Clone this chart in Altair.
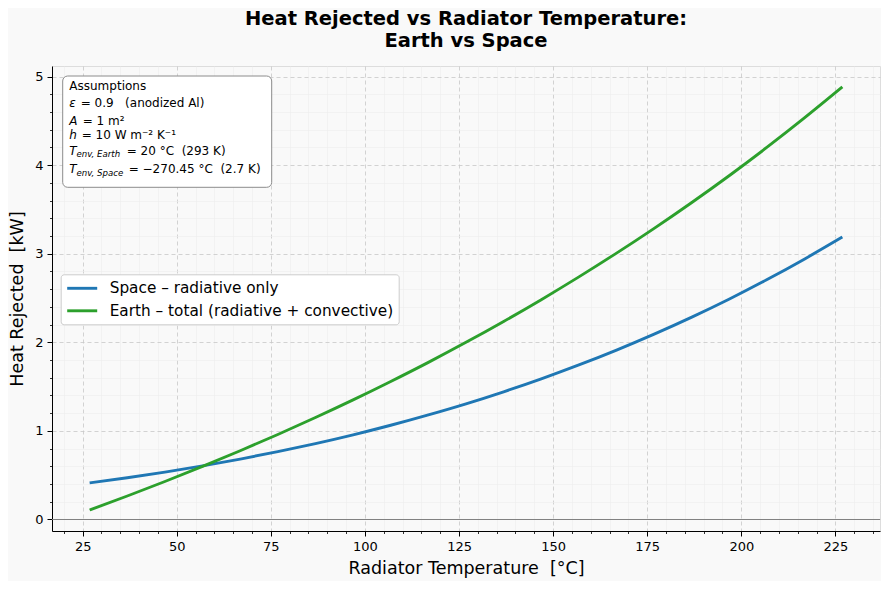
import altair as alt
import pandas as pd

# ---------------- data ----------------
temps_c = [26.85, 36.85, 46.85, 56.85, 66.85, 76.85, 86.85, 96.85, 106.85, 116.85,
           126.85, 136.85, 146.85, 156.85, 166.85, 176.85, 186.85, 196.85, 206.85,
           216.85, 226.85]
space_kw = [0.413, 0.471, 0.535, 0.605, 0.682, 0.766, 0.857, 0.956, 1.064, 1.181,
            1.306, 1.442, 1.588, 1.745, 1.913, 2.093, 2.285, 2.490, 2.709, 2.942, 3.189]
earth_kw = [0.107, 0.265, 0.429, 0.599, 0.776, 0.960, 1.151, 1.350, 1.558, 1.774,
            2.000, 2.236, 2.482, 2.739, 3.007, 3.287, 3.579, 3.884, 4.203, 4.536, 4.883]
series_names = ["Space \u2013 radiative only", "Earth \u2013 total (radiative + convective)"]
series_colors = ["#1f77b4", "#2ca02c"]

x_ticks = [20, 25, 30, 35, 40, 45, 50, 55, 60, 65, 70, 75, 80, 85, 90, 95, 100, 105,
           110, 115, 120, 125, 130, 135, 140, 145, 150, 155, 160, 165, 170, 175, 180,
           185, 190, 195, 200, 205, 210, 215, 220, 225, 230, 235]
x_major_ticks = [25, 50, 75, 100, 125, 150, 175, 200, 225]
y_ticks = [0, 0.2, 0.4, 0.6, 0.8, 1, 1.2, 1.4, 1.6, 1.8, 2, 2.2, 2.4, 2.6, 2.8,
           3, 3.2, 3.4, 3.6, 3.8, 4, 4.2, 4.4, 4.6, 4.8, 5]
y_major_ticks = [0, 1, 2, 3, 4, 5]

title_lines = ["Heat Rejected vs Radiator Temperature:", "Earth vs Space"]
x_title = "Radiator Temperature\u00a0\u00a0[\u00b0C]"
y_title = "Heat Rejected\u00a0\u00a0[kW]"

# ---------------- frames ----------------
rows = []
for t, s in zip(temps_c, space_kw):
    rows.append({"T": t, "Q": s, "series": series_names[0]})
for t, e in zip(temps_c, earth_kw):
    rows.append({"T": t, "Q": e, "series": series_names[1]})
df = pd.DataFrame(rows)

W, H = 828, 465
FONT = "DejaVu Sans"
LW = 2.9

def major_test(vals):
    return "indexof([" + ",".join(str(v) for v in vals) + "], datum.value) >= 0"

x_major = major_test(x_major_ticks)
y_major = major_test(y_major_ticks)

def make_axis(vals, test, title, title_pad):
    return alt.Axis(
        values=vals,
        tickCount=500,
        labelExpr=f"({test}) ? format(datum.value, 'd') : ''",
        title=title,
        titleFontSize=17.5, titleFontWeight="normal", titleColor="black",
        titlePadding=title_pad,
        labelFontSize=13, labelColor="black", labelPadding=4, labelFlush=False,
        labelOverlap=False,
        tickColor="black",
        tickSize={"condition": {"test": test, "value": 5}, "value": 2.5},
        tickWidth={"condition": {"test": test, "value": 1}, "value": 0.8},
        domainColor="black", domainWidth=1,
        grid=True,
        gridColor={"condition": {"test": test, "value": "#c8c8c8"}, "value": "#ececec"},
        gridDash={"condition": {"test": test, "value": [4, 3]}, "value": []},
        gridWidth={"condition": {"test": test, "value": 0.8}, "value": 0.6},
    )

x_axis = make_axis(x_ticks, x_major, x_title, 6)
y_axis = make_axis(y_ticks, y_major, y_title, 8)

x_scale = alt.Scale(domain=[16.85, 236.85], nice=False, zero=False)
y_scale = alt.Scale(domain=[-0.13, 5.12], nice=False, zero=False)

lines = alt.Chart(df).mark_line(strokeWidth=LW, interpolate="monotone", clip=True).encode(
    x=alt.X("T:Q", scale=x_scale, axis=x_axis),
    y=alt.Y("Q:Q", scale=y_scale, axis=y_axis),
    color=alt.Color(
        "series:N",
        scale=alt.Scale(domain=series_names, range=series_colors),
        legend=alt.Legend(
            title=None, orient="none", legendX=8.7, legendY=208.3,
            symbolType="M-2,0H2", symbolSize=225, symbolStrokeWidth=LW,
            symbolOffset=7.5,
            labelFontSize=15.3, labelColor="black", labelLimit=600, labelOffset=18.5,
            rowPadding=4.5, padding=5, fillColor="white", strokeColor="#cccccc",
            cornerRadius=3,
        ),
    ),
    order=alt.Order("T:Q"),
)

zero_line = alt.Chart(pd.DataFrame({"y0": [0.0]})).mark_rule(color="#808080", strokeWidth=1).encode(
    y=alt.Y("y0:Q", scale=y_scale)
)

# annotation box
box = alt.Chart(pd.DataFrame({"k": [0]})).mark_rect(
    fill="white", stroke="#8c8c8c", strokeWidth=1, cornerRadius=5
).encode(x=alt.value(10.7), x2=alt.value(219.7), y=alt.value(10), y2=alt.value(121.3))

def txt(s, x, y, size=12, style="normal"):
    return alt.Chart(pd.DataFrame({"k": [0]})).mark_text(
        text=s, align="left", baseline="middle", fontSize=size, fontStyle=style,
        font=FONT, color="black"
    ).encode(x=alt.value(x), y=alt.value(y))

ann = [
    txt("Assumptions", 17.3, 19.7),
    txt("\u03b5", 17.3, 37.3, style="italic"),
    txt("= 0.9\u00a0\u00a0\u00a0(anodized Al)", 28.7, 37.3),
    txt("A", 17.3, 54.7, style="italic"),
    txt("= 1 m\u00b2", 30.7, 54.7),
    txt("h", 17.3, 69, style="italic"),
    txt("= 10 W m\u207b\u00b2 K\u207b\u00b9", 29.7, 69),
    txt("T", 17.3, 84.7, style="italic"),
    txt("env, Earth", 24.5, 88, size=8.6, style="italic"),
    txt("= 20 \u00b0C\u00a0\u00a0(293 K)", 74.7, 84.7),
    txt("T", 17.3, 103.3, style="italic"),
    txt("env, Space", 24.5, 106.7, size=8.6, style="italic"),
    txt("= \u2212270.45 \u00b0C\u00a0\u00a0(2.7 K)", 76.7, 103.3),
]

chart = alt.layer(zero_line, lines, box, *ann).properties(
    width=W, height=H,
    title=alt.TitleParams(
        text=title_lines, fontSize=19.5, fontWeight="bold", lineHeight=22,
        anchor="middle", frame="group", baseline="alphabetic", offset=0,
        color="black", font=FONT,
    ),
    autosize=alt.AutoSizeParams(type="none"),
    padding={"left": 44, "top": 58, "right": 1, "bottom": 50},
    background="#f9f9f9",
).configure_view(
    stroke="black", strokeWidth=1, fill="#f9f9f9"
).configure(
    font=FONT
)

chart.save("out.html", embed_options={"renderer": "svg", "actions": False})
